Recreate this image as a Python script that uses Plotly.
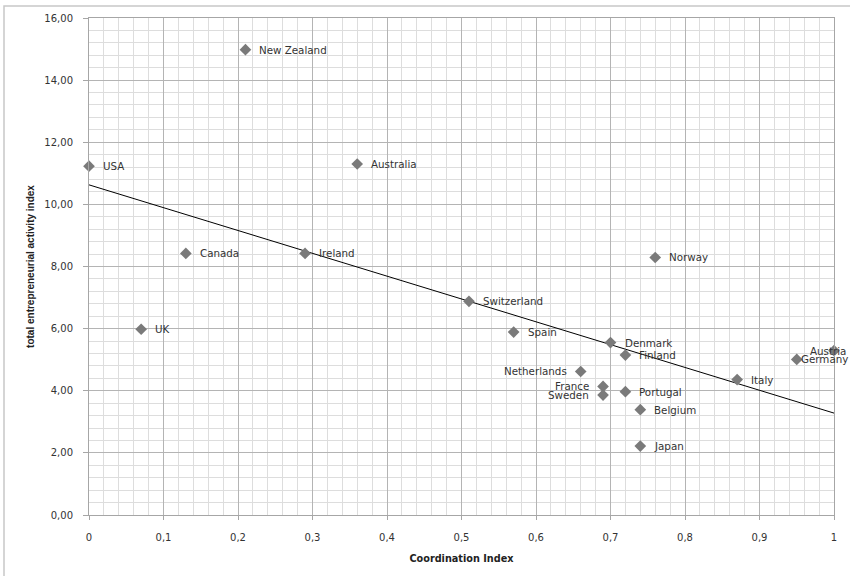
import numpy as np
import plotly.graph_objects as go

countries = ["USA", "New Zealand", "Australia", "Canada", "Ireland", "UK", "Norway",
             "Switzerland", "Spain", "Denmark", "Finland", "Netherlands", "France",
             "Sweden", "Portugal", "Belgium", "Japan", "Italy", "Germany", "Austria"]
coordination = [0.00, 0.21, 0.36, 0.13, 0.29, 0.07, 0.76, 0.51, 0.57, 0.70, 0.72,
                0.66, 0.69, 0.69, 0.72, 0.74, 0.74, 0.87, 0.95, 1.00]
tea = [11.23, 14.98, 11.30, 8.42, 8.42, 5.98, 8.29, 6.88, 5.89, 5.55, 5.15,
       4.62, 4.14, 3.86, 3.97, 3.39, 2.22, 4.36, 5.01, 5.29]

# label placement (style only)
left_side = {"Netherlands", "France", "Sweden"}
label_shift = {"Germany": 2, "Austria": 14}

slope, intercept = np.polyfit(coordination, tea, 1)
trend_x = [0.0, 1.0]
trend_y = [intercept + slope * v for v in trend_x]

fig = go.Figure()
fig.add_trace(go.Scatter(x=trend_x, y=trend_y, mode="lines",
                         line=dict(color="black", width=1), hoverinfo="skip",
                         showlegend=False))
fig.add_trace(go.Scatter(x=coordination, y=tea, mode="markers",
                         marker=dict(symbol="diamond", size=9, color="#7a7a7a"),
                         showlegend=False, cliponaxis=False))

for c, xv, yv in zip(countries, coordination, tea):
    if c == "Austria":
        anchor, shift = "right", label_shift[c]
    elif c in left_side:
        anchor, shift = "right", -12
    else:
        anchor, shift = "left", label_shift.get(c, 12)
    fig.add_annotation(x=xv, y=yv, text=c, showarrow=False, xanchor=anchor,
                       xshift=shift, yshift=0,
                       font=dict(family="DejaVu Sans", size=10.3, color="#333333"))

# chart-area border
fig.add_shape(type="rect", xref="paper", yref="paper",
              x0=(4 - 89) / 745, x1=(853 - 89) / 745,
              y0=(515 - 579) / 500, y1=(515 - 3) / 500,
              line=dict(color="#c8c8c8", width=1.5), fillcolor="rgba(0,0,0,0)",
              layer="below")

fig.update_layout(
    width=850, height=576,
    margin=dict(l=89, r=16, t=15, b=61),
    paper_bgcolor="white", plot_bgcolor="white",
    separators=",.",
    font=dict(family="DejaVu Sans", size=10, color="#333333"),
    xaxis=dict(range=[0, 1], dtick=0.1, tick0=0, showgrid=True,
               gridcolor="#b4b4b4", gridwidth=1,
               minor=dict(dtick=0.02, showgrid=True, gridcolor="#dddddd", gridwidth=1),
               showline=True, linecolor="#a6a6a6", mirror=True,
               ticks="outside", ticklen=4, tickcolor="#a6a6a6",
               ticklabelstandoff=9, zeroline=False,
               tickfont=dict(family="DejaVu Sans", size=10, color="#333333"),
               title=dict(text="<b>Coordination Index</b>", standoff=13,
                          font=dict(family="DejaVu Sans", size=9.7, color="#222222"))),
    yaxis=dict(range=[0, 16], dtick=2, tick0=0, tickformat=".2f", showgrid=True,
               gridcolor="#b4b4b4", gridwidth=1,
               minor=dict(dtick=0.4, showgrid=True, gridcolor="#dddddd", gridwidth=1),
               showline=True, linecolor="#a6a6a6", mirror=True,
               ticks="outside", ticklen=5, tickcolor="#a6a6a6",
               ticklabelstandoff=8, zeroline=False,
               tickfont=dict(family="DejaVu Sans", size=10, color="#333333"),
               title=dict(text="<b>total entrepreneurial activity index</b>", standoff=7,
                          font=dict(family="Liberation Sans", size=10, color="#222222"))),
)

fig.write_html("out.html", config={"displayModeBar": False},
               post_script="document.body.style.margin='0';")
